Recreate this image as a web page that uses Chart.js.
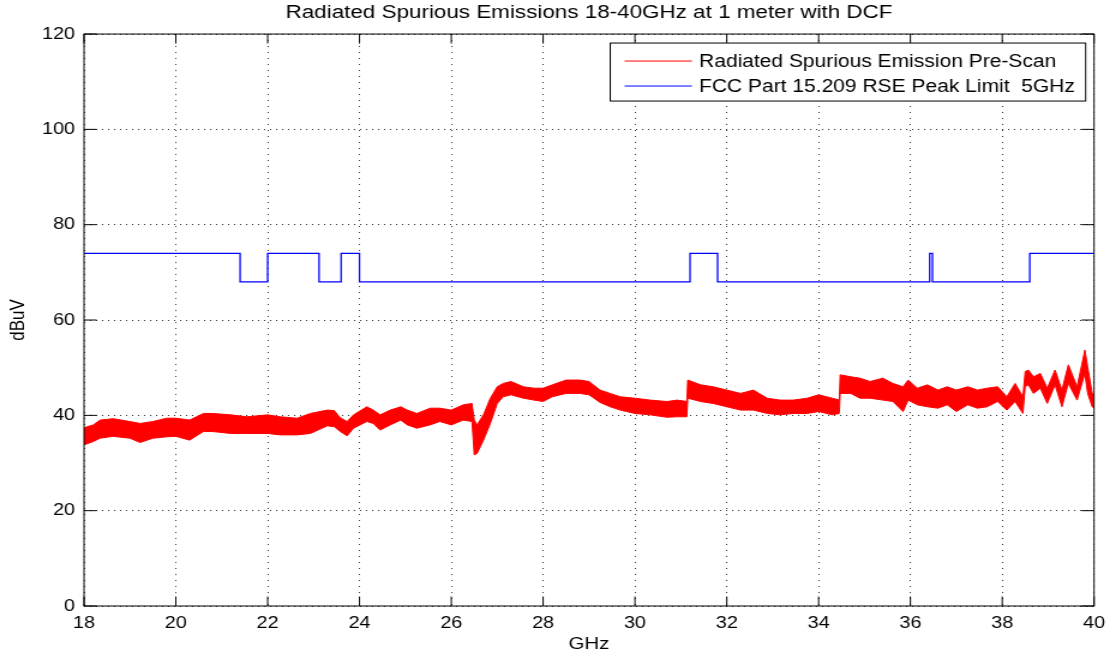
<!DOCTYPE html>
<html>
<head>
<meta charset="utf-8">
<script src="https://cdn.jsdelivr.net/npm/chart.js@4"></script>
<style>
  html, body { margin: 0; padding: 0; background: #fff; overflow: hidden; }
  /* the source plot is stretched sideways, so the chart is drawn narrower and widened */
  #wrap { width: 925px; height: 656px; transform: scaleX(1.2); transform-origin: 0 0; }
</style>
</head>
<body>
<div id="wrap"><canvas id="rse"></canvas></div>
<script>
const titleText = 'Radiated Spurious Emissions 18-40GHz at 1 meter with DCF'
const seriesNames = ['Radiated Spurious Emission Pre-Scan', 'FCC Part 15.209 RSE Peak Limit  5GHz']
const xTicks = [18, 20, 22, 24, 26, 28, 30, 32, 34, 36, 38, 40]
const yTicks = [0, 20, 40, 60, 80, 100, 120]

// pre-scan trace, read as the top and bottom edge of the noisy band (dBuV)
const redFreq = [18.0, 18.2, 18.35, 18.63, 19.0, 19.22, 19.5, 19.8, 20.0, 20.3, 20.6, 20.8, 21.2, 21.55, 22.0,
  22.27, 22.64, 22.93, 23.3, 23.45, 23.58, 23.73, 23.87, 24.16, 24.3, 24.45, 24.67, 24.9, 25.04, 25.25, 25.54,
  25.75, 26.0, 26.26, 26.45, 26.5, 26.56, 26.7, 26.85, 27.0, 27.13, 27.3, 27.57, 27.8, 28.0, 28.2, 28.5, 28.8,
  29.0, 29.24, 29.46, 29.68, 30.0, 30.33, 30.7, 30.92, 31.13, 31.15, 31.43, 31.7, 32.0, 32.3, 32.58, 32.88,
  33.16, 33.45, 33.75, 34.0, 34.3, 34.45, 34.47, 34.7, 34.9, 35.12, 35.4, 35.62, 35.84, 35.95, 36.15, 36.37,
  36.6, 36.8, 37.0, 37.25, 37.46, 37.67, 37.9, 38.1, 38.28, 38.45, 38.5, 38.57, 38.68, 38.83, 38.98, 39.15,
  39.3, 39.44, 39.63, 39.8, 39.86, 39.96, 40.0]
const redTop = [37.4, 38.0, 39.0, 39.3, 38.7, 38.3, 38.7, 39.4, 39.4, 39.0, 40.4, 40.4, 40.1, 39.7, 40.1,
  39.7, 39.4, 40.4, 41.1, 41.0, 39.5, 38.7, 40.1, 41.8, 41.1, 40.1, 41.1, 41.8, 41.1, 40.4, 41.5,
  41.5, 41.1, 42.2, 42.5, 39.0, 38.0, 40.1, 43.6, 46.0, 46.7, 47.1, 46.0, 45.7, 45.7, 46.4, 47.4, 47.4,
  47.1, 45.3, 44.6, 43.9, 43.6, 43.2, 42.9, 43.2, 42.9, 47.4, 46.4, 46.0, 45.3, 44.6, 45.3, 43.6,
  43.2, 43.2, 43.6, 44.3, 43.6, 43.2, 48.5, 48.1, 47.8, 47.1, 47.8, 46.7, 46.0, 47.4, 45.7, 46.4,
  45.3, 46.0, 45.3, 46.0, 45.3, 45.7, 46.0, 43.9, 46.7, 43.9, 49.2, 49.5, 48.1, 48.8, 45.7, 49.5,
  45.3, 50.6, 46.0, 53.7, 50.2, 44.6, 44.3]
const redBottom = [33.8, 34.5, 35.2, 35.6, 35.2, 34.3, 35.2, 35.5, 35.6, 34.8, 36.6, 36.6, 36.2, 36.2, 36.2,
  35.9, 35.9, 36.2, 37.8, 37.6, 36.6, 35.7, 37.3, 38.7, 38.3, 36.9, 38.0, 39.0, 38.0, 37.3, 38.0,
  38.7, 38.0, 39.0, 38.7, 31.7, 32.0, 34.8, 38.3, 42.5, 43.9, 44.3, 43.6, 43.2, 42.9, 43.9, 44.6, 44.6,
  44.3, 42.7, 41.8, 41.1, 40.4, 40.1, 39.6, 39.7, 39.7, 43.6, 42.9, 42.5, 41.8, 41.1, 41.1, 40.4,
  40.1, 40.4, 40.4, 40.8, 40.1, 40.4, 44.6, 44.6, 43.6, 43.6, 43.2, 42.9, 40.8, 43.2, 42.2, 41.8,
  41.5, 42.2, 40.8, 42.2, 41.5, 41.8, 42.9, 41.1, 42.9, 40.4, 46.0, 46.4, 44.6, 45.7, 42.5, 46.4,
  41.8, 46.7, 43.2, 48.8, 44.6, 41.8, 41.5]

// limit line: each level holds from its frequency up to the next one
const limitFreq = [18, 21.4, 22.0, 23.12, 23.6, 24.0, 31.2, 31.8, 36.42, 36.48, 38.6, 40]
const limitLevel = [74, 68, 74, 68, 74, 68, 74, 68, 74, 68, 74, 74]

const FONT = '"Liberation Sans", Arial, Helvetica, sans-serif'
const RED = '#ff0000'
const BLUE = '#0000ff'

// box round the axes, inward tick marks on all four sides, boxed legend
const matlabFrame = {
  id: 'matlabFrame',
  afterDraw (chart) {
    const { ctx, chartArea: a, scales } = chart
    ctx.save()
    ctx.strokeStyle = '#000'
    ctx.lineWidth = 1
    ctx.beginPath()
    xTicks.forEach(v => {
      const px = scales.x.getPixelForValue(v)
      ctx.moveTo(px, a.bottom); ctx.lineTo(px, a.bottom - 9.5)
      ctx.moveTo(px, a.top); ctx.lineTo(px, a.top + 9.5)
    })
    yTicks.forEach(v => {
      const py = scales.y.getPixelForValue(v)
      ctx.moveTo(a.left, py); ctx.lineTo(a.left + 10.5, py)
      ctx.moveTo(a.right, py); ctx.lineTo(a.right - 10.5, py)
    })
    ctx.stroke()
    ctx.strokeRect(a.left, a.top, a.right - a.left, a.bottom - a.top)

    ctx.font = '17.5px ' + FONT
    const tw = Math.max(...seriesNames.map(n => ctx.measureText(n).width))
    const boxW = 12 + 56 + 6 + tw + 9
    const boxH = 58
    const right = a.right - 7
    const top = a.top + 9
    const left = right - boxW
    ctx.fillStyle = '#fff'
    ctx.fillRect(left, top, boxW, boxH)
    ctx.strokeRect(left, top, boxW, boxH)
    const colors = [RED, BLUE]
    seriesNames.forEach((name, i) => {
      const y = top + 18 + i * 25
      ctx.strokeStyle = colors[i]
      ctx.beginPath()
      ctx.moveTo(left + 12, y); ctx.lineTo(left + 68, y)
      ctx.stroke()
      ctx.fillStyle = '#000'
      ctx.textBaseline = 'middle'
      ctx.textAlign = 'left'
      ctx.fillText(name, left + 74, y + 1)
    })
    ctx.restore()
  }
}

const pts = (xs, ys) => xs.map((x, i) => ({ x, y: ys[i] }))

new Chart(document.getElementById('rse'), {
  type: 'line',
  data: {
    datasets: [
      {
        label: seriesNames[0],
        data: pts(redFreq, redTop),
        borderColor: RED,
        backgroundColor: RED,
        borderWidth: 1,
        pointRadius: 0,
        fill: '+1'
      },
      {
        label: seriesNames[0] + ' (low edge)',
        data: pts(redFreq, redBottom),
        borderColor: RED,
        borderWidth: 1,
        pointRadius: 0,
        fill: false
      },
      {
        label: seriesNames[1],
        data: pts(limitFreq, limitLevel),
        borderColor: BLUE,
        borderWidth: 1.3,
        pointRadius: 0,
        stepped: 'before',
        fill: false
      }
    ]
  },
  options: {
    responsive: true,
    maintainAspectRatio: false,
    animation: false,
    layout: { padding: { left: 0, right: 13.3, top: 0, bottom: 0 } },
    plugins: {
      legend: { display: false },
      tooltip: { enabled: false },
      title: {
        display: true,
        text: titleText,
        fullSize: false,
        color: '#000',
        font: { family: FONT, size: 18.7, weight: 'normal' },
        padding: { top: 1.6, bottom: 10 }
      }
    },
    scales: {
      x: {
        type: 'linear',
        position: 'bottom',
        min: 18,
        max: 40,
        afterBuildTicks: s => { s.ticks = xTicks.map(v => ({ value: v })) },
        afterFit: s => { s.height = 50; s.paddingLeft = 0; s.paddingRight = 0 },
        ticks: { color: '#000', font: { family: FONT, size: 16.5 }, padding: 8, maxRotation: 0, autoSkip: false },
        grid: { color: '#333', lineWidth: 1, drawTicks: false },
        border: { display: false, dash: [1, 5] },
        title: { display: true, text: 'GHz', color: '#000', font: { family: FONT, size: 17 }, padding: { top: 0, bottom: 1.5 } }
      },
      y: {
        type: 'linear',
        min: 0,
        max: 120,
        afterBuildTicks: s => { s.ticks = yTicks.map(v => ({ value: v })) },
        afterFit: s => { s.width = 70; s.paddingTop = 0; s.paddingBottom = 0 },
        ticks: { color: '#000', font: { family: FONT, size: 16.5 }, padding: 7.5 },
        grid: { color: '#333', lineWidth: 1, drawTicks: false },
        border: { display: false, dash: [1, 4] },
        title: { display: true, text: 'dBuV', color: '#000', font: { family: FONT, size: 17 }, padding: { top: 4.8 } }
      }
    }
  },
  plugins: [matlabFrame]
})
</script>
</body>
</html>
